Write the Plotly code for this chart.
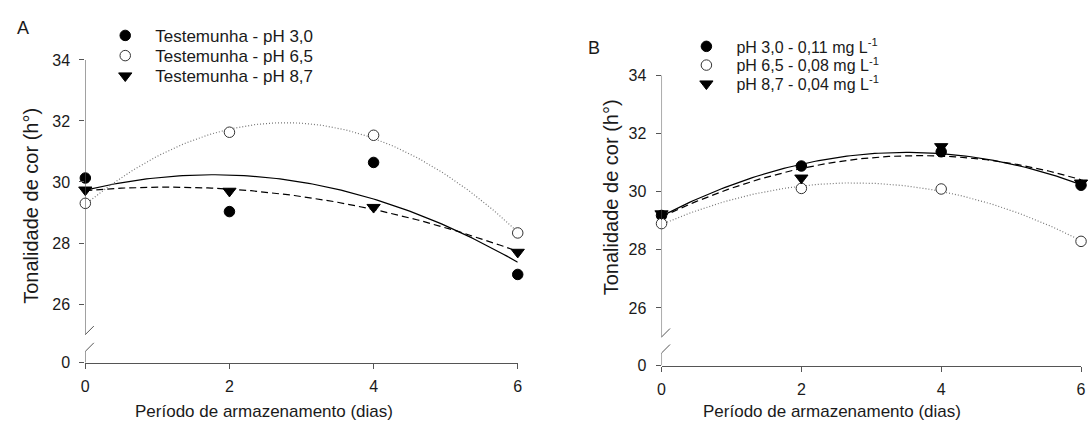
import numpy as np
import plotly.graph_objects as go

# ---------------- data ----------------
days = [0, 2, 4, 6]

# Panel A (Testemunha)
a_ph30 = [30.13, 29.03, 30.64, 26.97]
a_ph65 = [29.30, 31.63, 31.53, 28.33]
a_ph87 = [29.74, 29.70, 29.17, 27.70]
a_names = ["Testemunha - pH 3,0", "Testemunha - pH 6,5", "Testemunha - pH 8,7"]

# Panel B
b_ph30 = [29.18, 30.88, 31.37, 30.22]
b_ph65 = [28.90, 30.11, 30.09, 28.29]
b_ph87 = [29.24, 30.47, 31.55, 30.30]
b_names = ["pH 3,0 - 0,11 mg L<sup>-1</sup>",
           "pH 6,5 - 0,08 mg L<sup>-1</sup>",
           "pH 8,7 - 0,04 mg L<sup>-1</sup>"]

y_ticks = [26, 28, 30, 32, 34]
x_ticks = [0, 2, 4, 6]

W, H = 1090, 437
FONT = "Liberation Sans, Arial, sans-serif"
TXT = "#1a1a1a"
AX = "#555555"

def px(x):
    return x / W

def py(y):
    return 1 - y / H

styles = [
    dict(marker=dict(symbol="circle", size=10.5, color="#000000", line=dict(color="#000000", width=1)),
         line=dict(color="#000000", width=1.2, dash="solid")),
    dict(marker=dict(symbol="circle", size=10.5, color="#ffffff", line=dict(color="#333333", width=1)),
         line=dict(color="#777777", width=1.2, dash="1px,2px")),
    dict(marker=dict(symbol="triangle-down", size=11.5, color="#000000", line=dict(color="#000000", width=1)),
         line=dict(color="#000000", width=1.2, dash="7px,4px")),
]

fig = go.Figure()
xfine = np.linspace(0, 6, 121)

# one single-entry legend per series so each row sits where the reference has it
panels = [
    dict(series=[a_ph30, a_ph65, a_ph87], names=a_names, xa="x", ya="y",
         legends=["legend", "legend2", "legend3"], lx=92, rows=[29, 50, 71], fs=17),
    dict(series=[b_ph30, b_ph65, b_ph87], names=b_names, xa="x2", ya="y2",
         legends=["legend4", "legend5", "legend6"], lx=678, rows=[40, 59.5, 79], fs=16),
]

legend_layout = {}
for p in panels:
    # regression curves (quadratic fits of the data)
    for s, st in zip(p["series"], styles):
        coef = np.polyfit(days, s, 2)
        fig.add_trace(go.Scatter(x=xfine, y=np.polyval(coef, xfine), mode="lines",
                                 line=st["line"], showlegend=False, hoverinfo="skip",
                                 xaxis=p["xa"], yaxis=p["ya"]))
    for s, st, nm, lg, ry in zip(p["series"], styles, p["names"], p["legends"], p["rows"]):
        fig.add_trace(go.Scatter(x=days, y=s, mode="markers", marker=st["marker"],
                                 name=nm, legend=lg, cliponaxis=False,
                                 xaxis=p["xa"], yaxis=p["ya"]))
        legend_layout[lg] = dict(x=px(p["lx"]), y=py(ry), xanchor="left", yanchor="middle",
                                 itemwidth=50, font=dict(size=p["fs"], color=TXT, family=FONT),
                                 bgcolor="rgba(0,0,0,0)", borderwidth=0)

# axis geometry (pixels measured from reference)
geom = {
    "A": dict(x0=82, x1=518, ytop=54, ybot=369, ymin=24.08),
    "B": dict(x0=663, x1=1086, ytop=70, ybot=372, ymin=24.02),
}
brk_lo, brk_hi = 24.45, 25.0

def xaxis_cfg(g):
    return dict(domain=[px(g["x0"]), px(g["x1"])], range=[0, 6], tickvals=x_ticks,
                ticks="outside", ticklen=5, tickcolor=AX, showline=True, linecolor=AX,
                linewidth=1, showgrid=False, zeroline=False,
                tickfont=dict(size=16, color=TXT, family=FONT), ticklabelstandoff=4,
                fixedrange=True)

def yaxis_cfg(g, anchor):
    return dict(domain=[py(g["ybot"]), py(g["ytop"])], range=[g["ymin"], 34],
                tickvals=[g["ymin"]] + y_ticks, ticktext=["0"] + [str(t) for t in y_ticks],
                ticks="outside", ticklen=5, tickcolor=AX, showline=False, showgrid=False,
                zeroline=False, anchor=anchor,
                tickfont=dict(size=16, color=TXT, family=FONT), ticklabelstandoff=6,
                fixedrange=True)

fig.update_layout(
    width=W, height=H, margin=dict(l=0, r=0, t=0, b=0),
    paper_bgcolor="white", plot_bgcolor="white",
    font=dict(family=FONT, color=TXT),
    xaxis=dict(xaxis_cfg(geom["A"]), anchor="y"),
    yaxis=yaxis_cfg(geom["A"], "x"),
    xaxis2=dict(xaxis_cfg(geom["B"]), anchor="y2"),
    yaxis2=yaxis_cfg(geom["B"], "x2"),
    showlegend=True,
    **legend_layout,
)

shapes = []
for key, xa, ya in [("A", "x", "y"), ("B", "x2", "y2")]:
    g = geom[key]
    # broken y-axis line
    shapes.append(dict(type="line", xref=xa, yref=ya, x0=0, x1=0, y0=g["ymin"], y1=brk_lo,
                       line=dict(color=AX, width=1)))
    shapes.append(dict(type="line", xref=xa, yref=ya, x0=0, x1=0, y0=brk_hi, y1=34,
                       line=dict(color=AX, width=1)))
    for yb in (brk_lo, brk_hi):
        shapes.append(dict(type="line", xref=xa, yref=ya, xsizemode="pixel", ysizemode="pixel",
                           xanchor=0, yanchor=yb, x0=-8.5, x1=8.5, y0=-8.5, y1=8.5,
                           line=dict(color=AX, width=1)))
fig.update_layout(shapes=shapes)

annotations = [
    dict(text="A", x=px(19), y=py(21), font=dict(size=18)),
    dict(text="B", x=px(595), y=py(42), font=dict(size=18)),
    dict(text="Tonalidade de cor (h°)", x=px(27), y=py(206), textangle=-90, font=dict(size=20)),
    dict(text="Tonalidade de cor (h°)", x=px(612), y=py(197), textangle=-90, font=dict(size=20)),
    dict(text="Período de armazenamento (dias)", x=px(262), y=py(420), font=dict(size=17)),
    dict(text="Período de armazenamento (dias)", x=px(835), y=py(420), font=dict(size=17)),
]
for a in annotations:
    a.update(xref="paper", yref="paper", showarrow=False, xanchor="center", yanchor="middle")
    a["font"].update(family=FONT, color=TXT)
fig.update_layout(annotations=annotations)

fig.write_html("out.html", config={"displayModeBar": False},
               post_script="document.body.style.margin='0';document.documentElement.style.overflow='hidden';document.body.style.overflow='hidden';")
